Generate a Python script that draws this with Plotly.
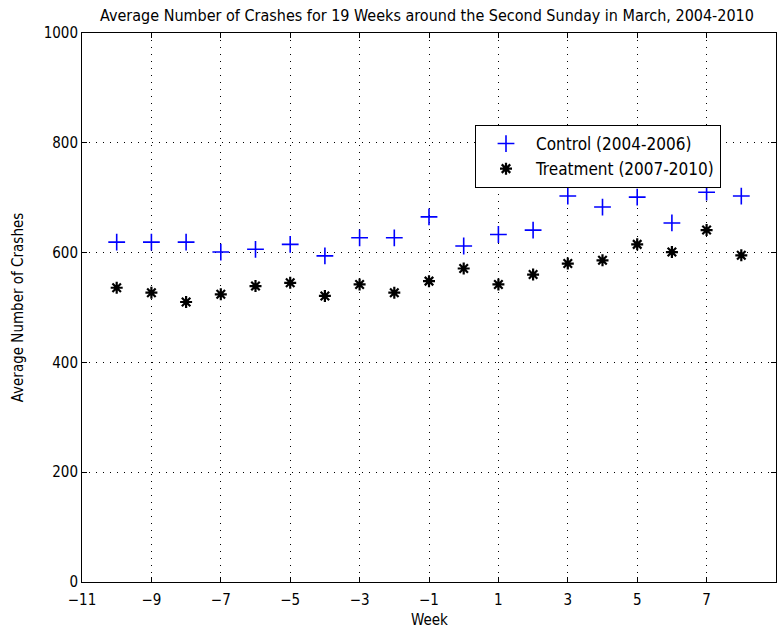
import plotly.graph_objects as go

weeks = list(range(-10, 9))
control = [619, 619, 619, 601, 606, 615, 594, 627, 627, 665, 612, 633, 641, 703, 683, 701, 654, 710, 703]
treatment = [536, 527, 510, 524, 539, 545, 521, 542, 527, 548, 571, 542, 560, 580, 586, 615, 601, 641, 595]
x_ticks = list(range(-11, 10, 2))
y_ticks = [0, 200, 400, 600, 800, 1000]

font = "DejaVu Sans Condensed"

fig = go.Figure()
fig.add_trace(go.Scatter(
    x=weeks, y=control, mode="markers", name="Control (2004-2006)",
    marker=dict(symbol="cross-thin", size=12, color="#0000ff",
                line=dict(color="#0000ff", width=1.6)),
))
fig.add_trace(go.Scatter(
    x=weeks, y=treatment, mode="markers", name="Treatment (2007-2010)",
    marker=dict(symbol="asterisk-open", size=10, color="black",
                line=dict(color="black", width=2.2)),
))

axis_common = dict(
    showline=True, linecolor="black", linewidth=1, mirror="ticks",
    ticks="inside", ticklen=5, tickcolor="black",
    showgrid=True, gridcolor="black", griddash="1px,6px", gridwidth=1,
    zeroline=False, automargin=False,
    tickfont=dict(family=font, size=15, color="black"),
)

fig.update_layout(
    width=780, height=633,
    paper_bgcolor="white", plot_bgcolor="white",
    margin=dict(l=82, r=4, t=33, b=51),
    title=dict(text="Average Number of Crashes for 19 Weeks around the Second Sunday in March, 2004-2010",
               x=427 / 780, xanchor="center", y=1 - 15 / 633, yanchor="middle",
               font=dict(family=font, size=16, color="black")),
    xaxis=dict(range=[-11, 9], tickvals=x_ticks, ticklabelstandoff=4, **axis_common),
    yaxis=dict(range=[0, 1000], tickvals=y_ticks,
               title=dict(text="Average Number of Crashes", font=dict(family=font, size=15, color="black"), standoff=16),
               **axis_common),
    legend=dict(x=(475 - 82) / 694, y=(582 - 125) / 549, xanchor="left", yanchor="top",
                bgcolor="white", bordercolor="black", borderwidth=1,
                itemwidth=50,
                font=dict(family=font, size=17, color="black")),
    showlegend=True,
    annotations=[dict(text="Week", xref="paper", yref="paper", x=0.5, y=-(620 - 582) / 549,
                      xanchor="center", yanchor="middle", showarrow=False,
                      font=dict(family=font, size=15, color="black"))],
)

fig.write_html("out.html", config={"displayModeBar": False},
               post_script="document.body.style.margin='0';")
